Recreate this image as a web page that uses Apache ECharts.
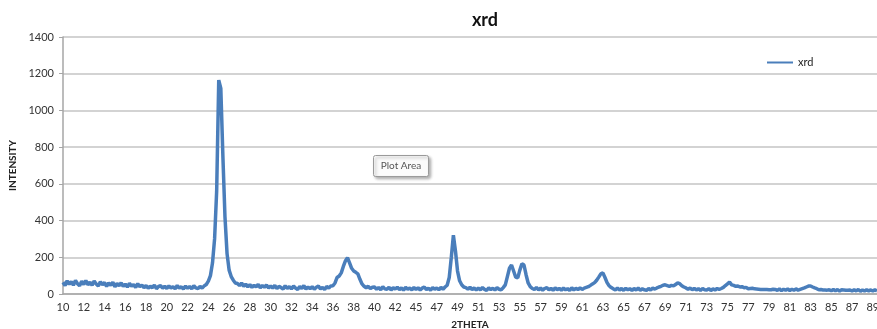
<!DOCTYPE html>
<html>
<head>
<meta charset="utf-8">
<script src="https://cdn.jsdelivr.net/npm/echarts@6/dist/echarts.min.js"></script>
<style>
html,body{margin:0;padding:0;background:#fff;}
#chart{width:877px;height:329px;}
</style>
</head>
<body>
<div id="chart"></div>
<script>
// Tick labels shown on the 2THETA axis (one every 10 data points)
const tickLabels = ["10","12","14","16","18","20","22","24","26","28","30","32","34","36","38","40","42",
  "45","47","49","51","53","55","57","59","61","63","65","67","69","71","73","75","77","79","81","83","85","87","89"];
const pointsPerTick = 10;

// Intensity readings, 10 points per tick interval
const intensity = [
  64,46,72,53,68,48,74,56,45,70,
  52,73,50,65,47,71,55,44,67,51,
  62,42,60,48,64,39,57,45,61,41,
  54,38,58,43,51,36,56,40,49,34,
  46,31,43,34,49,29,41,45,32,42,
  30,44,33,40,28,46,32,39,27,43,
  31,41,28,45,33,29,42,32,44,52,
  70,100,170,300,560,1165,1120,750,420,220,
  130,95,75,60,57,46,60,42,54,39,
  51,36,48,38,53,34,46,37,49,33,
  44,32,47,29,42,35,27,45,31,40,
  28,43,32,25,41,30,46,27,38,29,
  40,26,37,43,28,35,25,41,32,44,
  45,60,90,98,115,150,180,198,170,140,
  125,118,110,80,55,42,34,42,29,37,
  38,26,35,23,40,28,25,37,22,34,
  27,37,24,33,21,36,26,32,23,35,
  25,34,22,32,38,24,31,21,35,26,
  33,23,36,26,38,48,90,200,320,235,
  125,72,50,38,35,26,37,24,33,22,
  32,23,35,25,20,33,24,31,22,34,
  26,22,35,50,95,140,158,125,92,88,
  130,165,158,105,60,40,30,25,36,23,
  32,21,30,35,22,31,20,33,24,30,
  21,32,23,29,19,34,22,31,24,33,
  25,32,36,40,47,55,62,75,92,110,
  115,90,62,45,35,28,23,32,22,30,
  20,31,23,29,19,30,22,32,21,28,
  23,20,30,22,32,27,33,38,42,48,
  50,46,42,47,44,52,60,56,45,38,
  33,26,33,23,31,22,29,20,30,23,
  21,29,19,28,22,30,25,30,36,46,
  55,65,50,47,42,44,38,40,34,36,
  29,30,31,28,27,26,25,25,24,24,
  23,23,26,25,20,28,18,26,20,27,
  19,26,20,28,21,25,29,33,38,43,
  44,38,33,29,23,24,22,22,21,23,
  18,25,17,24,16,23,22,21,20,22,
  16,23,17,24,15,22,16,23,17,22,
  16,23,17
];

const categories = intensity.map((v, i) => (i % pointsPerTick === 0 && tickLabels[i / pointsPerTick] !== undefined) ? tickLabels[i / pointsPerTick] : '');

const FONT = 'Lato, "Open Sans", sans-serif';
const chart = echarts.init(document.getElementById('chart'), null, {renderer: 'canvas'});
chart.setOption({
  animation: false,
  backgroundColor: '#fff',
  title: {
    text: 'xrd', left: 480, top: 6, textAlign: 'center',
    textStyle: {fontFamily: FONT, fontSize: 18, fontWeight: 'bold', color: '#111'}
  },
  legend: {
    data: ['xrd'], left: 762, top: 52, itemWidth: 26, itemHeight: 10, itemGap: 4,
    icon: 'path://M0,4 L26,4 L26,6 L0,6 Z',
    textStyle: {fontFamily: FONT, fontSize: 11, color: '#222'}
  },
  grid: {left: 63, right: 0, top: 37, bottom: 35, containLabel: false, outerBoundsMode: 'none'},
  xAxis: {
    type: 'category', data: categories, boundaryGap: false,
    name: '2THETA', nameLocation: 'middle', nameGap: 26,
    nameTextStyle: {fontFamily: FONT, fontSize: 10, fontWeight: 'bold', color: '#222'},
    axisLine: {lineStyle: {color: '#a6a6a6', width: 1.5}},
    axisTick: {show: false},
    axisLabel: {interval: pointsPerTick - 1, fontFamily: FONT, fontSize: 11, color: '#333', margin: 8, hideOverlap: false},
    splitLine: {show: false}
  },
  yAxis: {
    type: 'value', min: 0, max: 1400, interval: 200,
    name: 'INTENSITY', nameLocation: 'middle', nameGap: 37, nameRotate: 90,
    nameTextStyle: {fontFamily: FONT, fontSize: 10, fontWeight: 'bold', color: '#222'},
    axisLine: {show: true, lineStyle: {color: '#a6a6a6', width: 1.5}},
    axisTick: {show: true, length: 4, lineStyle: {color: '#a6a6a6'}},
    axisLabel: {fontFamily: FONT, fontSize: 11, color: '#333', margin: 9, formatter: (v) => String(v)},
    splitLine: {lineStyle: {color: '#c4c4c4', width: 1.5}}
  },
  graphic: [{
    type: 'group', left: 373, top: 155,
    children: [
      {type: 'rect', shape: {x: 0, y: 0, width: 55, height: 21, r: 2},
       style: {fill: '#fbfbfb', stroke: '#9a9a9a', lineWidth: 1, shadowBlur: 3, shadowOffsetX: 2, shadowOffsetY: 2, shadowColor: 'rgba(0,0,0,0.3)'}},
      {type: 'text', x: 27.5, y: 10.5,
       style: {text: 'Plot Area', fontFamily: FONT, fontSize: 10, fill: '#555', align: 'center', verticalAlign: 'middle'}}
    ]
  }],
  series: [{
    name: 'xrd', type: 'line', data: intensity, showSymbol: false, symbol: 'none',
    sampling: null, smooth: false,
    lineStyle: {color: '#4a7ebb', width: 3.5},
    itemStyle: {color: '#4a7ebb'}
  }]
});
</script>
</body>
</html>
